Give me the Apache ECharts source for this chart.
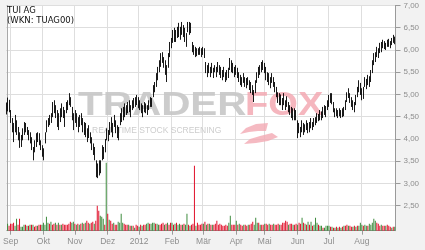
<!DOCTYPE html>
<html><head><meta charset="utf-8">
<script src="https://cdn.jsdelivr.net/npm/echarts@6/dist/echarts.min.js"></script>
<style>html,body{margin:0;padding:0;background:#f2f2f2}#c{width:425px;height:250px}</style>
</head><body><div id="c"></div>
<script>
const titleLine1 = 'TUI AG';
const titleLine2 = '(WKN: TUAG00)';
const monthLabels = ['', 'Sep', 'Okt', 'Nov', 'Dez', '2012', 'Feb', 'Mär', 'Apr', 'Mai', 'Jun', 'Jul', 'Aug'];
const tradingDays = [2, 22, 21, 22, 21, 22, 21, 22, 19, 22, 21, 22, 23];
const priceTicks = [2.5, 3.0, 3.5, 4.0, 4.5, 5.0, 5.5, 6.0, 6.5, 7.0];

const lows = [
4.55,4.62,4.60,4.36,4.15,3.93,4.15,4.09,3.97,3.80,
3.82,3.97,4.09,4.15,4.09,3.97,3.90,3.75,3.52,3.70,
3.82,3.93,3.86,3.75,3.60,3.52,3.90,4.15,4.27,4.31,
4.36,4.49,4.58,4.47,4.27,4.20,4.38,4.49,4.47,4.27,
4.58,4.65,4.76,4.72,4.42,4.20,4.36,4.27,4.15,4.27,
4.31,4.15,4.09,4.04,3.93,4.02,3.90,3.75,3.64,3.52,
3.14,3.12,3.18,3.23,3.52,3.55,3.70,3.97,3.95,4.09,
4.15,4.04,4.27,4.13,4.02,3.97,4.31,4.38,4.42,4.49,
4.54,4.58,4.60,4.49,4.65,4.69,4.72,4.76,4.69,4.65,
4.58,4.49,4.60,4.58,4.54,4.65,4.72,4.72,4.94,5.05,
5.17,5.32,5.50,5.62,5.71,5.60,5.44,5.28,5.60,5.84,
6.04,6.16,6.18,6.18,6.27,6.29,6.23,6.34,6.29,6.18,
6.07,6.40,6.34,6.38,5.95,5.89,5.84,5.86,5.89,5.89,
5.84,5.89,5.82,5.48,5.39,5.48,5.39,5.48,5.37,5.50,
5.39,5.50,5.44,5.37,5.32,5.39,5.28,5.32,5.37,5.55,
5.50,5.48,5.39,5.44,5.37,5.28,5.21,5.17,5.26,5.17,
5.14,5.21,5.10,5.03,4.99,4.83,5.03,5.26,5.37,5.44,
5.50,5.55,5.48,5.32,5.28,5.21,5.14,5.26,5.17,5.05,
4.94,4.81,4.76,4.76,4.65,4.76,4.65,4.72,4.60,4.54,
4.47,4.42,4.42,4.42,4.02,4.13,4.04,4.15,4.09,4.15,
4.20,4.13,4.15,4.24,4.20,4.27,4.31,4.36,4.40,4.42,
4.42,4.47,4.54,4.49,4.65,4.72,4.81,4.78,4.60,4.49,
4.51,4.47,4.51,4.47,4.49,4.51,4.65,4.83,4.92,4.81,
4.72,4.65,4.60,4.76,4.94,5.05,4.99,4.87,4.90,5.17,
5.12,5.21,5.17,5.28,5.48,5.66,5.73,5.84,5.82,5.93,
5.95,6.04,6.02,6.00,6.07,6.07,6.04,6.11,6.16,6.13
];
const highs = [
4.82,4.93,4.88,4.65,4.47,4.36,4.54,4.42,4.27,4.15,
4.09,4.24,4.38,4.36,4.27,4.20,4.15,4.04,3.82,3.97,
4.13,4.15,4.13,3.97,3.86,3.79,4.15,4.42,4.47,4.54,
4.58,4.83,4.87,4.76,4.65,4.58,4.69,4.80,4.72,4.65,
4.83,4.87,5.03,4.94,4.72,4.58,4.65,4.58,4.49,4.54,
4.58,4.47,4.38,4.36,4.24,4.31,4.15,4.04,3.90,3.82,
3.52,3.45,3.52,3.52,3.86,3.82,4.00,4.24,4.20,4.38,
4.49,4.36,4.54,4.42,4.31,4.27,4.58,4.69,4.72,4.80,
4.76,4.83,4.87,4.76,4.87,4.92,4.94,4.99,4.94,4.87,
4.80,4.76,4.83,4.80,4.76,4.87,4.94,4.92,5.21,5.28,
5.48,5.62,5.77,5.93,5.95,5.84,5.77,5.66,5.93,6.18,
6.27,6.45,6.50,6.45,6.52,6.61,6.52,6.63,6.56,6.50,
6.38,6.63,6.63,6.61,6.18,6.11,6.07,6.04,6.04,6.07,
6.04,6.07,6.04,5.73,5.66,5.71,5.62,5.71,5.60,5.66,
5.62,5.73,5.66,5.62,5.55,5.62,5.50,5.55,5.60,5.82,
5.77,5.71,5.62,5.66,5.60,5.50,5.44,5.39,5.48,5.39,
5.37,5.39,5.32,5.28,5.21,5.10,5.32,5.50,5.62,5.66,
5.73,5.77,5.71,5.62,5.50,5.48,5.39,5.48,5.39,5.28,
5.17,5.05,5.03,5.00,4.92,5.03,4.87,4.96,4.83,4.76,
4.72,4.69,4.69,4.65,4.42,4.36,4.27,4.42,4.36,4.33,
4.42,4.36,4.38,4.47,4.38,4.47,4.49,4.58,4.56,4.65,
4.62,4.72,4.76,4.74,4.87,4.99,5.03,5.03,4.83,4.69,
4.69,4.65,4.69,4.65,4.69,4.72,4.87,5.05,5.14,5.03,
4.94,4.87,4.83,4.99,5.17,5.32,5.26,5.14,5.17,5.39,
5.35,5.44,5.41,5.55,5.77,5.93,5.95,6.07,6.04,6.16,
6.18,6.23,6.20,6.16,6.23,6.25,6.20,6.27,6.34,6.30
];
// volume in Mio. shares
const volumes = [
0.7,0.5,0.7,0.7,0.8,0.5,1.2,0.6,1.2,0.4,
0.4,0.6,0.6,0.5,0.5,0.6,0.6,0.6,0.4,0.5,
0.5,0.6,0.6,0.6,0.8,0.6,1.4,0.8,0.7,0.9,
0.6,0.7,0.8,0.6,0.8,0.6,0.6,0.7,0.6,0.6,
0.6,0.7,0.9,0.8,0.9,0.7,0.6,0.7,0.6,0.7,
0.8,0.7,0.8,1.0,0.8,0.7,0.8,0.9,0.7,1.0,
2.5,2.0,1.5,1.4,1.2,0.6,6.8,1.7,1.1,1.0,
0.7,0.8,0.6,0.6,0.9,0.8,1.7,0.8,0.7,0.6,
0.6,0.6,0.5,0.5,0.5,0.3,0.6,0.5,0.4,0.6,
0.5,0.6,0.6,0.7,0.8,0.7,0.7,0.8,0.8,0.7,
0.7,0.6,0.6,0.7,0.8,0.6,0.7,0.8,0.6,0.8,
0.8,0.6,0.7,0.8,0.6,0.7,0.6,0.6,0.7,0.6,
1.7,0.6,0.5,0.6,0.7,6.5,0.5,0.8,0.6,0.6,
0.7,0.7,0.9,0.6,0.7,0.7,0.6,0.6,0.6,0.7,
1.0,0.6,0.7,0.6,0.5,0.5,0.6,0.5,0.8,1.5,
0.6,0.6,0.6,1.0,0.6,0.7,0.6,0.5,0.6,0.6,
0.5,0.6,0.6,0.7,0.9,0.6,1.3,0.8,0.8,0.6,
0.6,0.6,0.7,0.7,0.6,0.7,0.6,0.6,0.7,0.6,
0.6,0.7,0.6,0.6,0.8,0.8,1.0,0.9,0.6,0.7,
0.7,0.6,0.6,0.7,0.6,0.8,0.7,1.3,0.8,0.7,
0.6,0.9,0.6,0.9,0.5,0.6,1.3,0.8,0.6,0.5,
0.5,0.3,0.3,0.5,0.5,0.5,0.4,0.4,0.3,0.3,
0.4,0.3,0.4,0.3,0.4,0.5,0.5,0.6,0.5,0.5,
0.4,0.4,0.5,0.4,0.5,0.5,0.8,0.6,0.5,0.6,
0.5,0.5,0.7,0.6,0.8,1.2,1.0,0.8,0.7,0.5,
0.6,0.5,0.5,0.5,0.6,0.5,0.4,0.3,0.4,0.4
];
// 1 = day closed up (green volume bar), 0 = down (red)
const volumeUp = [
1,0,0,0,0,1,1,0,0,1,
1,1,0,1,0,1,0,1,0,0,
1,0,0,1,1,1,1,1,0,1,
0,0,1,0,1,0,1,0,0,0,
0,0,0,1,1,0,1,0,1,0,
1,0,1,0,0,1,0,0,1,0,
0,0,1,1,1,0,1,0,1,0,
0,1,0,0,1,1,1,1,0,0,
0,1,0,1,0,1,0,0,1,0,
1,0,0,1,1,0,1,1,1,0,
1,1,0,0,0,1,0,1,0,0,
1,0,1,0,1,1,0,1,0,1,
1,0,1,0,0,0,1,0,0,0,
0,1,0,1,0,1,0,1,0,0,
0,0,0,0,0,0,0,0,1,1,
0,0,0,1,0,1,0,0,1,0,
0,1,0,0,0,1,1,1,0,1,
0,0,1,0,0,1,0,0,1,0,
0,0,1,0,0,0,0,0,1,0,
0,1,0,0,1,0,0,1,0,1,
0,1,0,1,0,1,1,1,0,1,
1,0,1,1,1,1,0,1,0,1,
0,1,0,1,0,1,0,0,1,0,
0,1,0,1,0,1,1,1,0,1,
1,0,1,1,1,1,1,0,0,0,
1,0,0,1,0,0,0,1,0,1
];

// categories: one per trading day, month label on the first trading day
const categories = [];
const monthStart = {};
monthLabels.forEach((m, k) => {
  for (let d = 0; d < tradingDays[k]; d++) {
    if (d === 0 && m) monthStart[categories.length] = m;
    categories.push(k + '-' + (d + 1));
  }
});
const isMonthStart = (idx) => monthStart[idx] !== undefined;

const GREEN = '#3d8b3d', RED = '#e0102a', AXIS = '#9a9a9a', GRID = '#dedede', LABEL = '#8e8e8e';
const PINK = '#f3a9b3';
const chart = echarts.init(document.getElementById('c'), null, {renderer: 'canvas'});
chart.setOption({
  animation: false,
  backgroundColor: '#f2f2f2',
  grid: [
    {left: 6, right: 29.5, top: 5.5, height: 200.2, containLabel: false},
    {left: 6, right: 29.5, top: 5.5, bottom: 19.3, show: true, backgroundColor: '#fff', borderWidth: 0}
  ],
  xAxis: [
    {type: 'category', gridIndex: 0, data: categories, boundaryGap: true, show: false},
    {type: 'category', gridIndex: 1, data: categories, boundaryGap: true,
      axisLine: {show: true, lineStyle: {color: AXIS, width: 1}},
      axisTick: {show: true, alignWithLabel: true, interval: isMonthStart, length: 4, lineStyle: {color: AXIS}},
      axisLabel: {interval: isMonthStart, formatter: (v, idx) => monthStart[idx] || '', color: LABEL,
        fontFamily: 'Liberation Sans', fontSize: 8.5, margin: 6},
      splitLine: {show: true, interval: isMonthStart, lineStyle: {color: GRID, width: 1}}
    }
  ],
  yAxis: [
    {type: 'value', gridIndex: 0, position: 'right', min: priceTicks[0], max: priceTicks[priceTicks.length - 1], interval: 0.5,
      axisLine: {show: true, lineStyle: {color: AXIS}},
      axisTick: {show: true, inside: false, length: 5, lineStyle: {color: AXIS}},
      axisLabel: {formatter: v => v.toFixed(2).replace('.', ','), color: LABEL, fontFamily: 'Liberation Sans', fontSize: 8, margin: 8},
      splitLine: {show: true, lineStyle: {color: GRID, width: 1}}
    },
    {type: 'value', gridIndex: 1, position: 'left', min: 0, max: 22.52,
      axisLine: {show: true, lineStyle: {color: '#a8a8a8'}}, axisTick: {show: false}, axisLabel: {show: false}, splitLine: {show: false}},
    {type: 'value', gridIndex: 1, position: 'right', min: 0, max: 1,
      axisLine: {show: true, lineStyle: {color: AXIS}}, axisTick: {show: false}, axisLabel: {show: false}, splitLine: {show: false}}
  ],
  graphic: [
    {type: 'text', x: 7, y: 6, z: 5, style: {text: titleLine1, font: '8.5px "DejaVu Sans"', fill: '#111'}},
    {type: 'text', x: 7, y: 16, z: 5, style: {text: titleLine2, font: '8.5px "DejaVu Sans"', fill: '#111'}},
    {type: 'text', x: 78, y: 106, scaleX: 1.19, z: 1, style: {text: 'TRADER', font: 'bold 34px "Liberation Sans"', verticalAlign: 'middle',
      fill: '#c6c6c6', opacity: 0.9}},
    {type: 'text', x: 245, y: 106, scaleX: 1.12, z: 1, style: {text: 'FOX', font: 'bold 34px "Liberation Sans"', verticalAlign: 'middle',
      fill: PINK, opacity: 0.85}},
    {type: 'polygon', z: 1, shape: {points: [[268,123],[256,124],[246,128],[240,134],[249,132],[258,131],[266,131]]},
      style: {fill: PINK, opacity: 0.8}},
    {type: 'polygon', z: 1, shape: {points: [[272,133],[260,136],[250,139],[244,144],[256,143],[268,141],[278,137]]},
      style: {fill: PINK, opacity: 0.8}},
    {type: 'text', x: 92, y: 131, z: 1, style: {text: 'REAL TIME STOCK SCREENING', font: '8.5px "Liberation Sans"', verticalAlign: 'middle',
      fill: '#c8c8c8', opacity: 0.9}}
  ],
  series: [
    {type: 'bar', xAxisIndex: 1, yAxisIndex: 1, barWidth: 1, z: 3,
      data: volumes.map((v, i) => ({value: v, itemStyle: {color: volumeUp[i] ? GREEN : RED}}))},
    {type: 'candlestick', xAxisIndex: 0, yAxisIndex: 0, barWidth: 0.4, z: 4,
      data: lows.map((l, i) => [l, highs[i], l, highs[i]]),
      itemStyle: {color: '#000', color0: '#000', borderColor: '#000', borderColor0: '#000', borderWidth: 0.9}}
  ]
});
</script></body></html>
